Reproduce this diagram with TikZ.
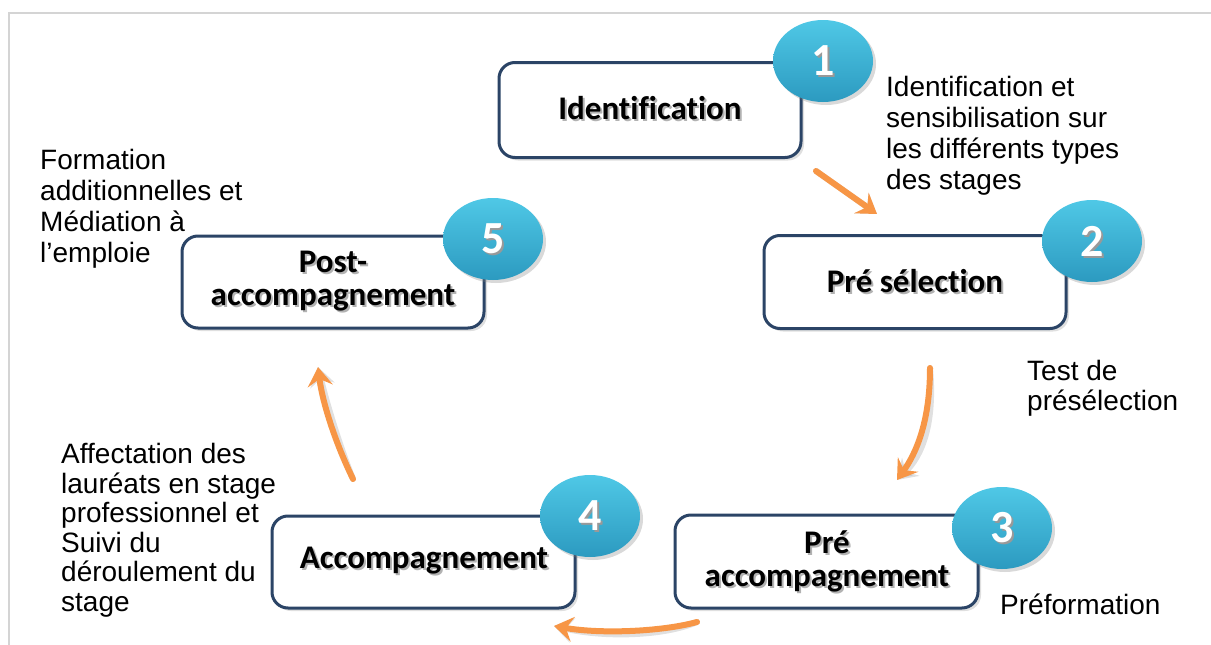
\documentclass[tikz,border=0pt]{standalone}
\usepackage{fontspec}
\setmainfont{Liberation Sans}
\newfontfamily\calib[Ligatures=NoCommon]{Carlito}
\usetikzlibrary{shapes.geometric,shadows,arrows.meta}
\definecolor{navy}{HTML}{2B4466}
\definecolor{orng}{HTML}{F79646}
\definecolor{tealtop}{HTML}{4FC8E6}
\definecolor{tealbot}{HTML}{2C9AC0}
\definecolor{frame}{HTML}{D4D4D4}
\tikzset{
  stepbox/.style={draw=navy, line width=3pt, rounded corners=16pt, fill=white,
    minimum width=300pt, minimum height=90pt, inner sep=0pt,
    drop shadow={opacity=0.25, shadow xshift=3pt, shadow yshift=-3pt}},
  boxlabel/.style={font=\calib\bfseries\fontsize{33}{33}\selectfont, align=center, text=black},
  numball/.style={ellipse, minimum width=100pt, minimum height=82pt, inner sep=0pt,
    top color=tealtop, bottom color=tealbot, draw=none,
    drop shadow={opacity=0.3, shadow xshift=3pt, shadow yshift=-3pt}},
  numtext/.style={font=\calib\bfseries\fontsize{46}{46}\selectfont, text=white},
  note/.style={font=\fontsize{28}{31}\selectfont, align=left, inner sep=0pt, anchor=north west, text=black},
  flow/.style={draw=orng, line width=6pt, line cap=round,
    -{Stealth[length=19pt, width=25pt, inset=7pt]}},
  flowshadow/.style={draw=black!35, opacity=0.35, line width=6pt, line cap=round,
    -{Stealth[length=19pt, width=25pt, inset=7pt]}}
}
\begin{document}
\begin{tikzpicture}[x=1pt,y=-1pt]
\useasboundingbox (0,0) rectangle (1211,645);
% frame
\draw[frame, line width=2pt] (9,645) -- (9,13) -- (1211,13);

% boxes
\node[stepbox, minimum width=302pt, minimum height=95pt] (b1) at (650,110) {};
\node[stepbox, minimum width=302pt, minimum height=93pt] (b2) at (915,282) {};
\node[stepbox, minimum width=303pt, minimum height=93pt] (b3) at (826.5,561.5) {};
\node[stepbox, minimum width=303pt, minimum height=92pt] (b4) at (423.5,562) {};
\node[stepbox, minimum width=302pt, minimum height=92pt] (b5) at (333,282) {};

% labels with subtle shadow
\foreach \p/\t [count=\i] in {{(650,108)}/{Identification},{(915,281)}/{Pré sélection},{(827,561)}/{Pré\\accompagnement},{(424,561)}/{Accompagnement},{(333,281)}/{Post-\\accompagnement}}{
  \node[boxlabel, text=black!30, xshift=2pt, yshift=-2pt] at \p {\t};
  \node[boxlabel] (l\i) at \p {\t};
}

% number balls
\foreach \p/\n in {{(823,61)}/1,{(1092,241)}/2,{(1002,528)}/3,{(590,516)}/4,{(493,239)}/5}{
  \node[numball] (n\n) at \p {};
  \node[numtext, text=black!40, xshift=2pt, yshift=-2pt] at \p {\n};
  \node[numtext] (m\n) at \p {\n};
}

% notes
\node[note] (t1) at (886,76) {Identification et\\sensibilisation sur\\les différents types\\des stages};
\node[note] (t5) at (40,149) {Formation\\additionnelles et\\Médiation à\\l’emploie};
\node[note, font=\fontsize{28}{30}\selectfont] (t2) at (1027,360) {Test de\\présélection};
\node[note, font=\fontsize{28}{29.6}\selectfont] (t4) at (61,443) {Affectation des\\lauréats en stage\\professionnel et\\Suivi du\\déroulement du\\stage};
\node[note, anchor=base west] (t3) at (1000,614) {Préformation};

% arrow end points
\coordinate (a1s) at (816,171);
\coordinate (a1e) at (877,214);
\coordinate (a2s) at (930,368);
\coordinate (a2e) at (897,480);
\coordinate (a3s) at (697,622);
\coordinate (a3e) at (554,626);
\coordinate (a4s) at (353,479);
\coordinate (a4e) at (318,367);

% shadows of arrows
\begin{scope}[shift={(5,4)}]
\draw[flowshadow] (a1s) -- (a1e);
\draw[flowshadow] (a2s) .. controls (930,420) and (917,452) .. (a2e);
\draw[flowshadow] (a3s) .. controls (660,632) and (600,634) .. (a3e);
\draw[flowshadow] (a4s) .. controls (334,440) and (322,400) .. (a4e);
\end{scope}
% arrows
\draw[flow] (a1s) -- (a1e);
\draw[flow] (a2s) .. controls (930,420) and (917,452) .. (a2e);
\draw[flow] (a3s) .. controls (660,632) and (600,634) .. (a3e);
\draw[flow] (a4s) .. controls (334,440) and (322,400) .. (a4e);
\end{tikzpicture}
\end{document}
